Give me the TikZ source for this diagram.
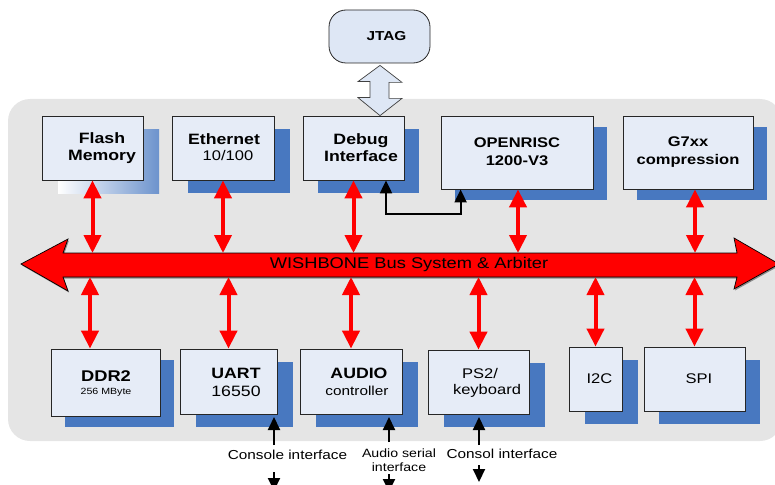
\documentclass[tikz,border=0pt]{standalone}
\usepackage{fontspec}
\setmainfont{Liberation Sans}[FakeStretch=1.18]
\usetikzlibrary{arrows.meta,shadows,calc}

\definecolor{panel}{RGB}{229,229,229}
\definecolor{boxfill}{RGB}{230,236,247}
\definecolor{shadeblue}{RGB}{72,120,192}
\definecolor{busred}{RGB}{255,0,0}
\definecolor{jtagfill}{RGB}{222,231,245}

\newcommand\fs[1]{\fontsize{#1}{#1}\selectfont}
\newcommand\fsl[2]{\fontsize{#1}{#2}\selectfont}

\begin{document}
\begin{tikzpicture}[x=1pt,y=-1pt,
  unit/.style={draw=black!85, line width=0.8pt, fill=boxfill, inner sep=0pt},
  dims/.style 2 args={minimum width=#1, minimum height=#2},
  backing/.style 2 args={drop shadow={shadow xshift=#1, shadow yshift=-#2,
      fill=shadeblue, opacity=1}},
  title/.style={font=\bfseries\fs{15}, align=center, inner sep=0pt},
  plain/.style={font=\fs{14}, align=center, inner sep=0pt},
  note/.style={font=\fs{13}, align=center, inner sep=0pt},
  busarrow/.style={busred, line width=4pt,
      {Triangle[width=17pt,length=18pt]}-{Triangle[width=17pt,length=18pt]}},
  sigarrow/.style={black, line width=2pt, -{Triangle[width=12pt,length=13pt]}},
]
\useasboundingbox (0,0) rectangle (775,484);
\clip (0,0) rectangle (775,484);

% system panel
\fill[panel, rounded corners=22pt] (8,99) rectangle (782,441);

% JTAG port
\node[draw=black!85, line width=0.8pt, fill=jtagfill, rounded corners=17pt,
      dims={101pt}{53pt}] (jtag) at (379.5,36.5) {};
\node[font=\bfseries\fs{13}, inner sep=0pt] (jtagT) at (386.5,36) {JTAG};

% ---------------- upper row ----------------
\node[unit, dims={101pt}{64pt},
      drop shadow={shadow xshift=16pt, shadow yshift=-13pt,
                   left color=white, right color=shadeblue!80!white, opacity=1}]
      (flash) at (92.5,148) {};
\node[title, font=\bfseries\fsl{15}{17}] (flashT) at (102,148) {Flash\\Memory};

\node[unit, dims={102pt}{64pt}, backing={16pt}{13pt}] (eth) at (223,148) {};
\node[title] (ethT) at (224,139) {Ethernet};
\node[plain] (ethS) at (228,155) {10/100};

\node[unit, dims={101pt}{64pt}, backing={15pt}{13pt}] (dbg) at (353.5,148) {};
\node[title, font=\bfseries\fsl{15}{17}] (dbgT) at (361,148) {Debug\\Interface};

\node[unit, dims={152pt}{73pt}, backing={14pt}{11pt}] (cpu) at (517,152.5) {};
\node[title, font=\bfseries\fsl{14}{18}] (cpuT) at (517,152) {OPENRISC\\1200-V3};

\node[unit, dims={130pt}{73pt}, backing={14pt}{11pt}] (g7) at (688,152.5) {};
\node[title, font=\bfseries\fsl{14}{18}] (g7T) at (688,152) {G7xx\\compression};

% ---------------- lower row ----------------
\node[unit, dims={109pt}{67pt}, backing={14pt}{11pt}] (ddr) at (105.5,382.5) {};
\node[title, font=\bfseries\fs{15.5}] (ddrT) at (106,376) {DDR2};
\node[plain, font=\fs{9}] (ddrS) at (106,392) {256 MByte};

\node[unit, dims={97pt}{65pt}, backing={16pt}{13pt}] (uart) at (228.5,381.5) {};
\node[title] (uartT) at (236,373) {UART};
\node[plain, font=\fs{15}] (uartS) at (236,391) {16550};

\node[unit, dims={102pt}{65pt}, backing={16pt}{13pt}] (audio) at (351,381.5) {};
\node[title] (audioT) at (359,373) {AUDIO};
\node[note] (audioS) at (357,391) {controller};

\node[unit, dims={101pt}{64pt}, backing={16pt}{13pt}] (ps2) at (478.5,382) {};
\node[plain] (ps2T) at (480,373) {PS2/};
\node[plain] (ps2S) at (487,391) {keyboard};

\node[unit, dims={53pt}{64pt}, backing={16pt}{13pt}] (i2c) at (595.5,379) {};
\node[plain] (i2cT) at (599.5,379) {I2C};

\node[unit, dims={101pt}{64pt}, backing={15pt}{13pt}] (spi) at (694.5,379) {};
\node[plain] (spiT) at (699,379) {SPI};

% ---------------- WISHBONE bus ----------------
\coordinate (busN) at (0,253);
\coordinate (busS) at (0,277);
\fill[black!45] (22,265.5) -- (69,240.5) -- (64,254.5) -- (738,254.5) -- (735,239.5)
  -- (780,265.5) -- (735,290.5) -- (738,278.5) -- (64,278.5) -- (69,292.5) -- cycle;
\filldraw[fill=busred, draw=black, line width=0.7pt]
  (21,264) -- (68,239) -- (63,253) -- (737,253) -- (734,238)
  -- (779,264) -- (734,289) -- (737,277) -- (63,277) -- (68,291) -- cycle;
\node[font=\fs{15.5}, inner sep=0pt] (busT) at (409,264) {WISHBONE Bus System \& Arbiter};

% bus attachments, upper row
\draw[busarrow] (flash.south) -- (flash.south |- busN);
\draw[busarrow] (eth.south) -- (eth.south |- busN);
\draw[busarrow] (dbg.south) -- (dbg.south |- busN);
\draw[busarrow] ([xshift=1pt]cpu.south) -- ([xshift=1pt]cpu.south |- busN);
\draw[busarrow] ([xshift=7pt]g7.south) -- ([xshift=7pt]g7.south |- busN);

% bus attachments, lower row
\draw[busarrow] ([xshift=-15.5pt]ddr.north |- busS) -- ([xshift=-15.5pt]ddr.north);
\draw[busarrow] (uart.north |- busS) -- (uart.north);
\draw[busarrow] (audio.north |- busS) -- (audio.north);
\draw[busarrow] (ps2.north |- busS) -- (ps2.north);
\draw[busarrow] (i2c.north |- busS) -- (i2c.north);
\draw[busarrow] (spi.north |- busS) -- (spi.north);

% JTAG to debug interface
\coordinate (jtagTip) at ($(jtag.south)+(0.5,2)$);
\coordinate (dbgTip) at (jtag.south |- dbg.north);
\filldraw[fill=jtagfill, draw=black!75, line width=0.7pt]
  (jtagTip) -- ++(22,17) -- ++(-13,0) -- ++(0,16) -- ++(13,0)
  -- (dbgTip -| jtagTip) -- ++(-22,-18) -- ++(12,0) -- ++(0,-16) -- ++(-12,0) -- cycle;

% debug link to the CPU
\draw[black, line width=2pt,
      {Triangle[width=12pt,length=13pt]}-{Triangle[width=12pt,length=13pt]}]
  ([xshift=32.5pt]dbg.south) |- ([xshift=20pt,yshift=-25pt]cpu.south west)
  -- ([xshift=20pt]cpu.south west);

% external interfaces
\node[note] (conL) at (287.5,455) {Console interface};
\node[note, font=\fsl{12}{14}] (audL) at (399,460) {Audio serial\\interface};
\node[note] (psL) at (502,454) {Consol interface};

\coordinate (uartPort) at (274,417);
\coordinate (audioPort) at (389,417);
\coordinate (ps2Port) at (479,417);
\coordinate (uartTail) at (274,445);
\coordinate (audioTail) at (389,442);
\coordinate (ps2Tail) at (479,445);
\coordinate (uartDrop) at (274,472);
\coordinate (uartOut) at (274,491);
\coordinate (audioDrop) at (389,474);
\coordinate (audioOut) at (389,492);
\coordinate (ps2Drop) at (479,465);
\coordinate (ps2Out) at (479,482);

\draw[sigarrow] (uartTail) -- (uartPort);
\draw[sigarrow] (audioTail) -- (audioPort);
\draw[sigarrow] (ps2Tail) -- (ps2Port);
\draw[sigarrow] (uartDrop) -- (uartOut);
\draw[sigarrow] (audioDrop) -- (audioOut);
\draw[sigarrow] (ps2Drop) -- (ps2Out);
\end{tikzpicture}
\end{document}
